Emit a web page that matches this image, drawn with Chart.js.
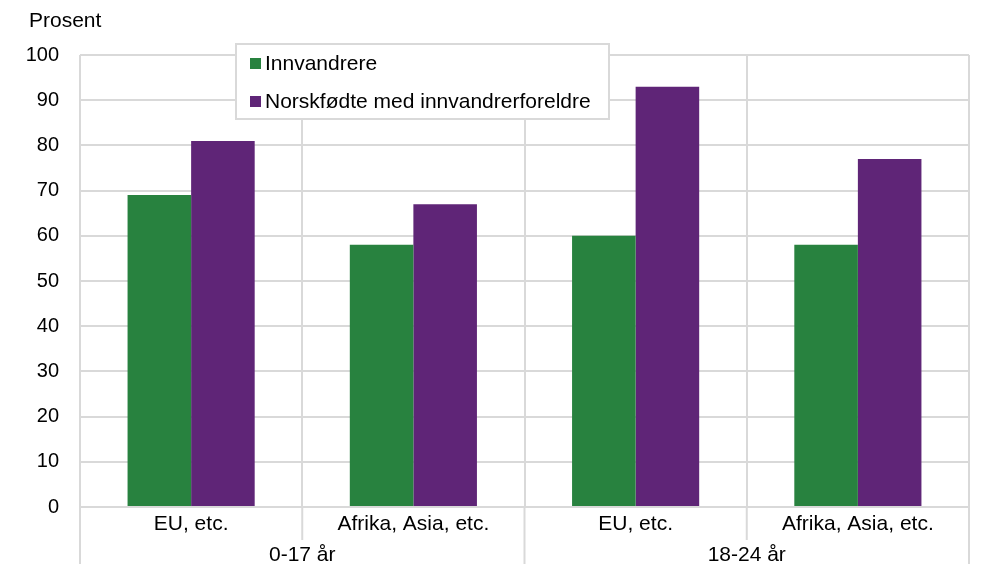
<!DOCTYPE html>
<html>
<head>
<meta charset="utf-8">
<script src="https://cdn.jsdelivr.net/npm/chart.js@4"></script>
<style>
  body { margin: 0; background: #fff; }
  #wrap { width: 982px; height: 564px; }
</style>
</head>
<body>
<div id="wrap"><canvas id="chart" width="982" height="564"></canvas></div>
<script>
const categories = ['EU, etc.', 'Afrika, Asia, etc.', 'EU, etc.', 'Afrika, Asia, etc.'];
const groups = ['0-17 år', '18-24 år'];
const innvandrere = [69, 58, 60, 58];
const norskfodte = [81, 67, 93, 77];
const seriesNames = ['Innvandrere', 'Norskfødte med innvandrerforeldre'];
const yTicks = [0, 10, 20, 30, 40, 50, 60, 70, 80, 90, 100];

const FONT = '"Liberation Sans", Arial, sans-serif';
const GRID = '#d9d9d9';

// group labels, separators below the axis, "Prosent" and the boxed legend
const extras = {
  id: 'extras',
  afterDraw(chart) {
    const ctx = chart.ctx;
    const x = chart.scales.x;
    const area = chart.chartArea;
    const step = x.width / categories.length;
    const perGroup = categories.length / groups.length;

    ctx.save();
    ctx.strokeStyle = GRID;
    ctx.lineWidth = 2;
    for (let k = 0; k <= categories.length; k++) {
      const px = x.left + k * step;
      const end = k % perGroup === 0 ? chart.height : area.bottom + 33;
      ctx.beginPath();
      ctx.moveTo(px, area.bottom);
      ctx.lineTo(px, end);
      ctx.stroke();
    }

    ctx.fillStyle = '#000';
    ctx.font = '21px ' + FONT;
    ctx.textAlign = 'center';
    ctx.textBaseline = 'middle';
    groups.forEach((g, i) => {
      const cx = x.left + (i + 0.5) * perGroup * step;
      ctx.fillText(g, cx, 555);
    });

    ctx.textAlign = 'left';
    ctx.fillText('Prosent', 29, 21);

    // legend box
    ctx.fillStyle = '#fff';
    ctx.fillRect(236, 44, 373, 75);
    ctx.strokeRect(236, 44, 373, 75);
    const rows = [63, 101];
    chart.data.datasets.forEach((ds, i) => {
      ctx.fillStyle = ds.backgroundColor;
      ctx.fillRect(250, rows[i] - 5, 11, 11);
      ctx.fillStyle = '#000';
      ctx.font = '21px ' + FONT;
      ctx.fillText(ds.label, 265, rows[i] + 1);
    });
    ctx.restore();
  }
};

new Chart(document.getElementById('chart'), {
  type: 'bar',
  data: {
    labels: categories,
    datasets: [
      { label: seriesNames[0], data: innvandrere, backgroundColor: '#28823f' },
      { label: seriesNames[1], data: norskfodte, backgroundColor: '#5f2577' }
    ]
  },
  options: {
    responsive: false,
    animation: false,
    devicePixelRatio: 1,
    layout: { padding: { top: 55, right: 13, left: 0, bottom: 0 } },
    datasets: { bar: { categoryPercentage: 0.572, barPercentage: 1 } },
    plugins: { legend: { display: false }, tooltip: { enabled: false } },
    scales: {
      x: {
        grid: { offset: true, color: GRID, lineWidth: 2, drawTicks: false },
        border: { display: false },
        ticks: { color: '#000', font: { family: FONT, size: 21 }, padding: 5, maxRotation: 0 },
        afterFit(s) { s.height = 57; }
      },
      y: {
        min: 0,
        max: 100,
        afterBuildTicks(s) { s.ticks = yTicks.map(v => ({ value: v })); },
        grid: { color: GRID, lineWidth: 2, drawTicks: false },
        border: { display: false },
        ticks: { color: '#000', font: { family: FONT, size: 20 }, padding: 21 },
        afterFit(s) { s.width = 80; }
      }
    }
  },
  plugins: [extras]
});
</script>
</body>
</html>
